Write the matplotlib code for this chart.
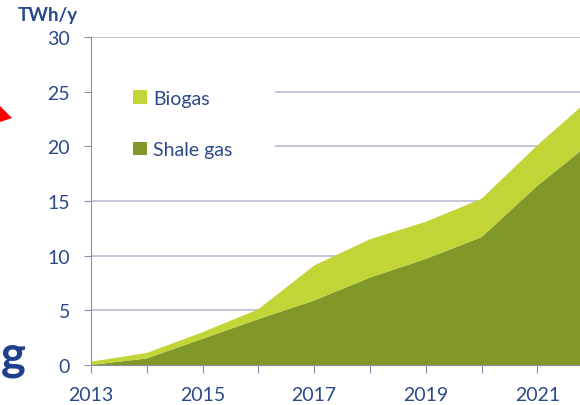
import numpy as np
import matplotlib.pyplot as plt
from matplotlib.patches import Polygon, Rectangle

plt.rcParams['font.family'] = ['Lato', 'DejaVu Sans']

# Data (TWh/y)
years = [2013, 2014, 2015, 2016, 2017, 2018, 2019, 2020, 2021, 2022]
shale_gas = [0.0, 0.6, 2.4, 4.2, 5.9, 8.0, 9.7, 11.7, 16.4, 20.5]
biogas = [0.3, 0.5, 0.6, 0.9, 3.2, 3.5, 3.4, 3.5, 3.7, 4.1]
year_labels = ['2013', '', '2015', '', '2017', '', '2019', '', '2021', '']
y_ticks = [0, 5, 10, 15, 20, 25, 30]

text_col = '#2c4a8a'
grid_col = '#b9bccf'
shale_col = '#7f9827'
bio_col = '#c2d537'

fig = plt.figure(figsize=(5.8, 4.06), dpi=100)
ax = fig.add_axes([91/580, 40/406, 489/580, 328/406])

ax.stackplot(years, shale_gas, biogas, colors=[shale_col, bio_col],
             labels=['Shale gas', 'Biogas'], zorder=2)

ax.set_yticks(y_ticks)
ax.set_xticks(years)
ax.set_xticklabels(year_labels)
# the slide cuts the chart off just before 2022
ax.set_xlim(2013, 2013 + 489/55.8)
ax.set_ylim(0, 30)
ax.yaxis.grid(True, color=grid_col, linewidth=1.2, zorder=0)
ax.set_axisbelow(True)

for s in ['top', 'right']:
    ax.spines[s].set_visible(False)
ax.spines['left'].set_color('#8c8fa8')
ax.spines['bottom'].set_color('#8c8fa8')
ax.tick_params(axis='y', colors=text_col, labelsize=14, length=5, pad=10, color='#8c8fa8')
ax.tick_params(axis='x', colors=text_col, labelsize=14, length=6, pad=9, color='#8c8fa8')

# white box behind the legend hides the grid lines there
ax.add_patch(Rectangle((0, 16.5/30), 0.376, 11.5/30, transform=ax.transAxes,
                       facecolor='white', edgecolor='none', zorder=1))
handles, labels = ax.get_legend_handles_labels()
leg = ax.legend(handles[::-1], labels[::-1], loc='upper left',
                bbox_to_anchor=(0.05, 0.893), frameon=False, fontsize=14,
                handlelength=0.7, handleheight=0.7, handletextpad=0.35,
                labelspacing=1.79)
for t in leg.get_texts():
    t.set_color(text_col)

fig.text(18/580, 1 - 21/406, 'TWh/y', color='#264a88', fontsize=13.5,
         fontweight='bold', va='baseline')

# slide fragments around the chart
fig.text(0.5/580, 1 - 370/406, 'g', color='#203f8c', fontsize=34,
         fontweight='bold', va='baseline')
fig.patches.append(Polygon([(0, 1 - 107/406), (12/580, 1 - 119/406), (0, 1 - 123/406)],
                           closed=True, transform=fig.transFigure,
                           facecolor='#ff0000', edgecolor='none'))

fig.savefig('out.png', dpi=100)
